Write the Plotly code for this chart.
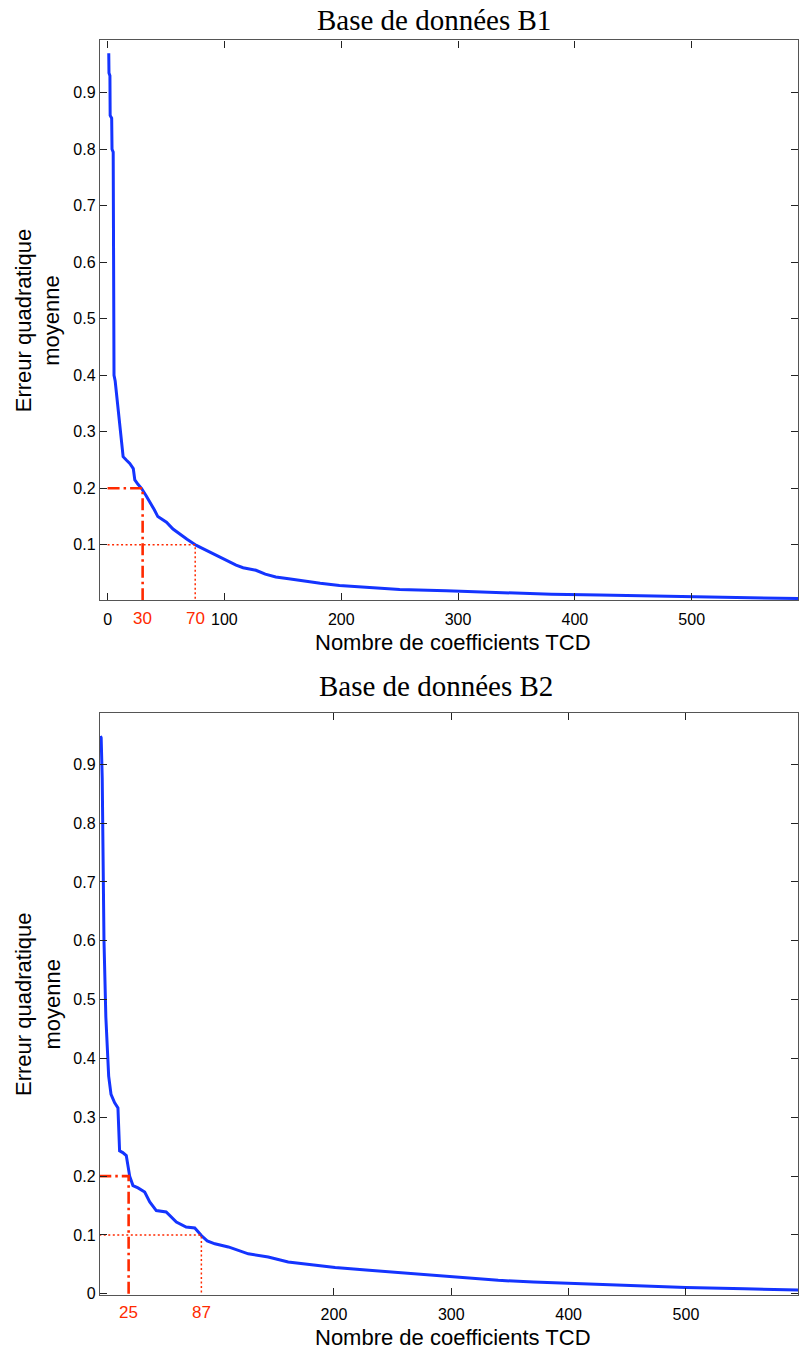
import plotly.graph_objects as go

W, H = 799, 1360

# ---- data: Base de données B1 ----
b1_n = [1, 1.2, 2, 2.2, 3.5, 3.8, 4.8, 5.2, 5.5, 6.5, 8, 9, 10.5, 12, 13.3, 16, 19, 22,
        23.3, 26, 29, 33, 37.6, 40, 43, 47, 50.4, 56, 61.8, 68, 76, 83, 90, 97, 104.5,
        110, 116, 127, 135, 144, 155, 167, 182, 198.5, 225, 250, 290, 335, 380, 421,
        465, 506, 550, 591]
b1_err = [0.97, 0.935, 0.93, 0.86, 0.855, 0.80, 0.795, 0.60, 0.40, 0.39, 0.36, 0.33,
          0.305, 0.28, 0.256, 0.25, 0.244, 0.235, 0.215, 0.207, 0.200, 0.187, 0.172,
          0.162, 0.150, 0.145, 0.14, 0.128, 0.119, 0.11, 0.099, 0.092, 0.084, 0.077,
          0.0695, 0.064, 0.0595, 0.055, 0.048, 0.043, 0.04, 0.036, 0.032, 0.028, 0.024,
          0.021, 0.0185, 0.015, 0.0125, 0.011, 0.009, 0.0078, 0.0062, 0.005]

# ---- data: Base de données B2 ----
b2_n = [1, 1.6, 2.5, 3, 4, 5.6, 6.5, 8, 10, 13, 15.9, 16.5, 17.3, 20, 23, 25.9, 28.7,
        33, 38.7, 43, 48.6, 57, 65.7, 74, 81.4, 87, 92, 98.5, 110, 127, 144, 161, 184,
        201, 230, 255, 300, 340, 370, 400, 450, 500, 550, 596]
b2_err = [0.948, 0.945, 0.876, 0.80, 0.60, 0.47, 0.42, 0.37, 0.339, 0.325, 0.316, 0.28,
          0.243, 0.24, 0.235, 0.20, 0.184, 0.18, 0.173, 0.156, 0.1415, 0.139, 0.122,
          0.1135, 0.112, 0.099, 0.09, 0.085, 0.0797, 0.068, 0.0627, 0.054, 0.0486,
          0.0447, 0.04, 0.036, 0.0288, 0.023, 0.02, 0.0176, 0.014, 0.0108, 0.0085, 0.0063]

# thresholds and the coefficient counts marked in red
thresholds = [0.2, 0.1]
b1_marks = [30, 75]
b1_mark_labels = ["30", "70"]
b2_marks = [25, 87]
b2_mark_labels = ["25", "87"]

b1_xticks = [0, 100, 200, 300, 400, 500]
b2_xticks = [200, 300, 400, 500]
b1_yticks = [0.1, 0.2, 0.3, 0.4, 0.5, 0.6, 0.7, 0.8, 0.9]
b2_yticks = [0, 0.1, 0.2, 0.3, 0.4, 0.5, 0.6, 0.7, 0.8, 0.9]

titles = ["Base de données B1", "Base de données B2"]
xlabel = "Nombre de coefficients TCD"
ylabel = "Erreur quadratique<br>moyenne"

BLUE = "#1434ff"
RED = "#ff2a00"
SANS = "Liberation Sans, Arial, sans-serif"
SERIF = "Liberation Serif, Times New Roman, serif"


def px(xp):
    return xp / W


def py(yp):
    return 1 - yp / H


# plot boxes (pixels)
L, R = 100, 799
T1, B1 = 40.7, 603.3
T2, B2 = 716.7, 1301.7

fig = go.Figure()

panels = [
    (b1_n, b1_err, b1_marks, "x", "y"),
    (b2_n, b2_err, b2_marks, "x2", "y2"),
]
styles = [("12px,4px,2.5px,4px", 2.6), ("2px,2.5px", 1.5)]
for n, err, marks, xa, ya in panels:
    fig.add_trace(go.Scatter(x=n, y=err, mode="lines", xaxis=xa, yaxis=ya,
                             line=dict(color=BLUE, width=3), showlegend=False,
                             hoverinfo="skip"))
    for thr, m, (dash, w) in zip(thresholds, marks, styles):
        fig.add_trace(go.Scatter(x=[0, m, m], y=[thr, thr, -0.05], mode="lines",
                                 xaxis=xa, yaxis=ya, showlegend=False,
                                 hoverinfo="skip",
                                 line=dict(color=RED, width=w, dash=dash)))

common = dict(showgrid=False, zeroline=False, showline=True, mirror="ticks",
              linecolor="#555", linewidth=1.2, ticks="inside", ticklen=7,
              tickcolor="#222", tickwidth=1,
              tickfont=dict(family=SANS, size=16, color="black"))

fig.update_layout(
    width=W, height=H,
    margin=dict(l=0, r=0, t=0, b=0),
    paper_bgcolor="white", plot_bgcolor="white",
    xaxis=dict(common, domain=[px(L), 1], range=[-6.6, 591], anchor="y",
               ticklabelstandoff=5,
               tickvals=b1_xticks, ticktext=[str(v) for v in b1_xticks]),
    yaxis=dict(common, domain=[py(B1), py(T1)], range=[0.002, 0.9926], anchor="x",
               tickvals=b1_yticks, ticktext=[f"{v:g}" for v in b1_yticks]),
    xaxis2=dict(common, domain=[px(L), 1], range=[0.5, 595.5], anchor="y2",
                ticklabelstandoff=5,
                tickvals=b2_xticks, ticktext=[str(v) for v in b2_xticks]),
    yaxis2=dict(common, domain=[py(B2), py(T2)], range=[-0.002, 0.987], anchor="x2",
                tickvals=b2_yticks, ticktext=[f"{v:g}" for v in b2_yticks]),
)

ann = []
# titles
ann.append(dict(text=titles[0], x=px(435), y=py(20), xref="paper", yref="paper",
                showarrow=False, xanchor="center", yanchor="middle",
                font=dict(family=SERIF, size=29, color="black")))
ann.append(dict(text=titles[1], x=px(437), y=py(690), xref="paper", yref="paper",
                showarrow=False, xanchor="center", yanchor="middle",
                font=dict(family=SERIF, size=29, color="black")))
# axis labels
for axis_bottom, top in [(B1, T1), (B2, T2)]:
    ann.append(dict(text=xlabel, x=px(454), y=py(axis_bottom + 43), xref="paper",
                    yref="paper", showarrow=False, xanchor="center", yanchor="middle",
                    font=dict(family=SANS, size=22, color="black")))
    ann.append(dict(text=ylabel, x=px(38), y=py((axis_bottom + top) / 2), xref="paper",
                    yref="paper", showarrow=False, xanchor="center", yanchor="middle",
                    textangle=-90,
                    font=dict(family=SANS, size=22, color="black")))
# red marked counts
for marks, labels, xr, axis_bottom in [(b1_marks, b1_mark_labels, "x", B1),
                                       (b2_marks, b2_mark_labels, "x2", B2)]:
    for m, lab in zip(marks, labels):
        ann.append(dict(text=lab, x=m, y=py(axis_bottom + 18), xref=xr, yref="paper",
                        showarrow=False, xanchor="center", yanchor="middle",
                        font=dict(family=SANS, size=17, color=RED)))
fig.update_layout(annotations=ann)

fig.write_html(
    "out.html",
    config={"displayModeBar": False},
    post_script="document.body.style.margin='0';"
                "document.documentElement.style.overflow='hidden';",
)
